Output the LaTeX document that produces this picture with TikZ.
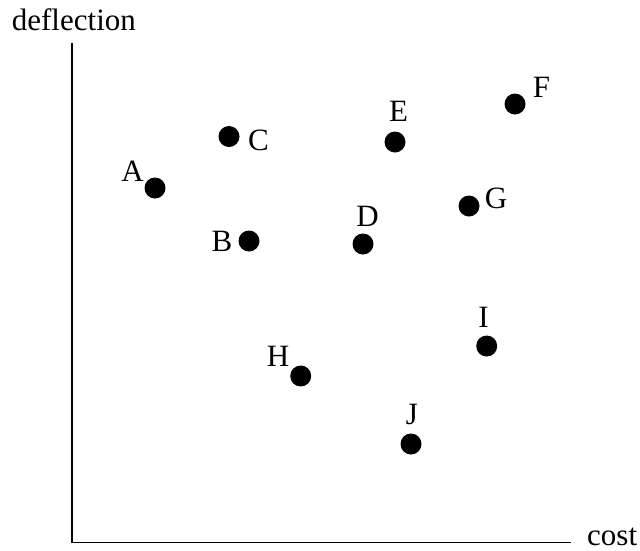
\documentclass[tikz,border=0pt]{standalone}
\usepackage{fontspec}
\setmainfont{Liberation Serif}
\begin{document}
\begin{tikzpicture}[x=1pt,y=-1pt,
  dot/.style={circle,fill=black,inner sep=0pt,minimum size=21pt},
  lbl/.style={anchor=base,inner sep=0pt,font=\fontsize{31}{36}\selectfont},
  axis/.style={line width=1.4pt,line cap=butt}]
\useasboundingbox (0,0) rectangle (640,550);
% axes
\coordinate (ytop) at (72,43);
\coordinate (orig) at (72,542.7);
\coordinate (xend) at (571,542.7);
\draw[axis] (ytop) -- (orig) -- (xend);
\node[lbl,anchor=base west] (ylab) at (11.7,30) {deflection};
\node[lbl,anchor=base west] (xlab) at (587,545.5) {cost};
% points
\node[dot] (A) at (155,188) {};
\node[dot] (B) at (249,241) {};
\node[dot] (C) at (229,136.5) {};
\node[dot] (D) at (363,244) {};
\node[dot] (E) at (395,142) {};
\node[dot] (F) at (515,104) {};
\node[dot] (G) at (469,206) {};
\node[dot] (H) at (300.7,376) {};
\node[dot] (I) at (486.7,346) {};
\node[dot] (J) at (411,444) {};
% labels
\node[lbl] (lA) at (132.5,181) {A};
\node[lbl] (lB) at (222,251.7) {B};
\node[lbl] (lC) at (258.5,150.7) {C};
\node[lbl] (lD) at (367.5,226.7) {D};
\node[lbl] (lE) at (398.5,121.7) {E};
\node[lbl] (lF) at (541.5,97) {F};
\node[lbl] (lG) at (496,208) {G};
\node[lbl] (lH) at (278,366) {H};
\node[lbl] (lI) at (483.5,327) {I};
\node[lbl] (lJ) at (412,424) {J};
\end{tikzpicture}
\end{document}
